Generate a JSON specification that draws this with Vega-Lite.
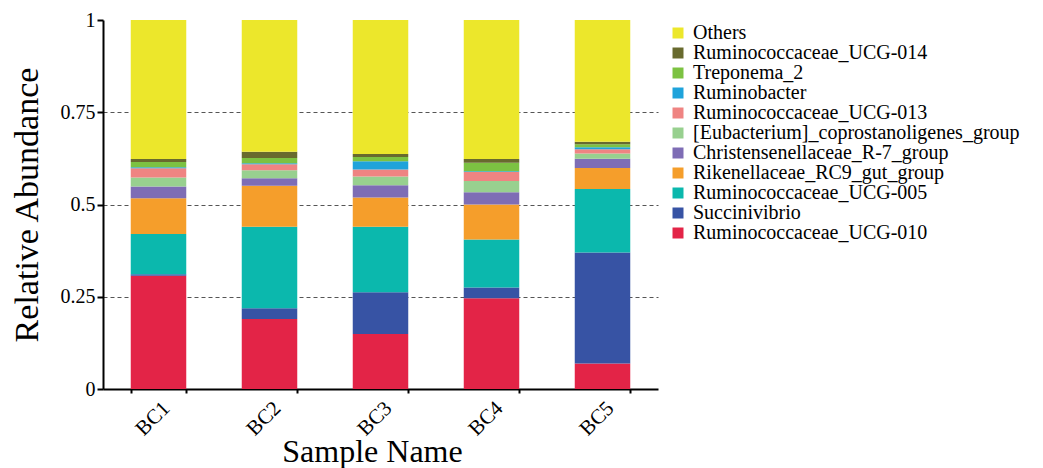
{
  "$schema": "https://vega.github.io/schema/vega-lite/v6.json",
  "autosize": "none",
  "width": 555,
  "height": 369,
  "padding": {"left": 103, "top": 20, "right": 385, "bottom": 79},
  "background": "white",
  "config": {
    "font": "Liberation Serif",
    "view": {"stroke": null},
    "axis": {"labelFont": "Liberation Serif", "titleFont": "Liberation Serif", "labelColor": "black", "titleColor": "black", "titleFontWeight": "normal", "domainColor": "black", "tickColor": "black"},
    "legend": {"labelFont": "Liberation Serif", "labelColor": "black"}
  },
  "data": {
    "values": [
      {"sample": "BC1", "genus": "Ruminococcaceae_UCG-010", "rank": 1, "value": 0.307},
      {"sample": "BC1", "genus": "Succinivibrio", "rank": 2, "value": 0.004},
      {"sample": "BC1", "genus": "Ruminococcaceae_UCG-005", "rank": 3, "value": 0.109},
      {"sample": "BC1", "genus": "Rikenellaceae_RC9_gut_group", "rank": 4, "value": 0.097},
      {"sample": "BC1", "genus": "Christensenellaceae_R-7_group", "rank": 5, "value": 0.032},
      {"sample": "BC1", "genus": "[Eubacterium]_coprostanoligenes_group", "rank": 6, "value": 0.024},
      {"sample": "BC1", "genus": "Ruminococcaceae_UCG-013", "rank": 7, "value": 0.025},
      {"sample": "BC1", "genus": "Ruminobacter", "rank": 8, "value": 0.003},
      {"sample": "BC1", "genus": "Treponema_2", "rank": 9, "value": 0.014},
      {"sample": "BC1", "genus": "Ruminococcaceae_UCG-014", "rank": 10, "value": 0.008},
      {"sample": "BC1", "genus": "Others", "rank": 11, "value": 0.377},
      {"sample": "BC2", "genus": "Ruminococcaceae_UCG-010", "rank": 1, "value": 0.190},
      {"sample": "BC2", "genus": "Succinivibrio", "rank": 2, "value": 0.029},
      {"sample": "BC2", "genus": "Ruminococcaceae_UCG-005", "rank": 3, "value": 0.221},
      {"sample": "BC2", "genus": "Rikenellaceae_RC9_gut_group", "rank": 4, "value": 0.111},
      {"sample": "BC2", "genus": "Christensenellaceae_R-7_group", "rank": 5, "value": 0.020},
      {"sample": "BC2", "genus": "[Eubacterium]_coprostanoligenes_group", "rank": 6, "value": 0.022},
      {"sample": "BC2", "genus": "Ruminococcaceae_UCG-013", "rank": 7, "value": 0.016},
      {"sample": "BC2", "genus": "Ruminobacter", "rank": 8, "value": 0.003},
      {"sample": "BC2", "genus": "Treponema_2", "rank": 9, "value": 0.014},
      {"sample": "BC2", "genus": "Ruminococcaceae_UCG-014", "rank": 10, "value": 0.017},
      {"sample": "BC2", "genus": "Others", "rank": 11, "value": 0.357},
      {"sample": "BC3", "genus": "Ruminococcaceae_UCG-010", "rank": 1, "value": 0.149},
      {"sample": "BC3", "genus": "Succinivibrio", "rank": 2, "value": 0.113},
      {"sample": "BC3", "genus": "Ruminococcaceae_UCG-005", "rank": 3, "value": 0.178},
      {"sample": "BC3", "genus": "Rikenellaceae_RC9_gut_group", "rank": 4, "value": 0.079},
      {"sample": "BC3", "genus": "Christensenellaceae_R-7_group", "rank": 5, "value": 0.033},
      {"sample": "BC3", "genus": "[Eubacterium]_coprostanoligenes_group", "rank": 6, "value": 0.024},
      {"sample": "BC3", "genus": "Ruminococcaceae_UCG-013", "rank": 7, "value": 0.019},
      {"sample": "BC3", "genus": "Ruminobacter", "rank": 8, "value": 0.022},
      {"sample": "BC3", "genus": "Treponema_2", "rank": 9, "value": 0.012},
      {"sample": "BC3", "genus": "Ruminococcaceae_UCG-014", "rank": 10, "value": 0.008},
      {"sample": "BC3", "genus": "Others", "rank": 11, "value": 0.363},
      {"sample": "BC4", "genus": "Ruminococcaceae_UCG-010", "rank": 1, "value": 0.246},
      {"sample": "BC4", "genus": "Succinivibrio", "rank": 2, "value": 0.029},
      {"sample": "BC4", "genus": "Ruminococcaceae_UCG-005", "rank": 3, "value": 0.130},
      {"sample": "BC4", "genus": "Rikenellaceae_RC9_gut_group", "rank": 4, "value": 0.095},
      {"sample": "BC4", "genus": "Christensenellaceae_R-7_group", "rank": 5, "value": 0.033},
      {"sample": "BC4", "genus": "[Eubacterium]_coprostanoligenes_group", "rank": 6, "value": 0.031},
      {"sample": "BC4", "genus": "Ruminococcaceae_UCG-013", "rank": 7, "value": 0.024},
      {"sample": "BC4", "genus": "Ruminobacter", "rank": 8, "value": 0.002},
      {"sample": "BC4", "genus": "Treponema_2", "rank": 9, "value": 0.023},
      {"sample": "BC4", "genus": "Ruminococcaceae_UCG-014", "rank": 10, "value": 0.010},
      {"sample": "BC4", "genus": "Others", "rank": 11, "value": 0.377},
      {"sample": "BC5", "genus": "Ruminococcaceae_UCG-010", "rank": 1, "value": 0.069},
      {"sample": "BC5", "genus": "Succinivibrio", "rank": 2, "value": 0.301},
      {"sample": "BC5", "genus": "Ruminococcaceae_UCG-005", "rank": 3, "value": 0.172},
      {"sample": "BC5", "genus": "Rikenellaceae_RC9_gut_group", "rank": 4, "value": 0.057},
      {"sample": "BC5", "genus": "Christensenellaceae_R-7_group", "rank": 5, "value": 0.025},
      {"sample": "BC5", "genus": "[Eubacterium]_coprostanoligenes_group", "rank": 6, "value": 0.014},
      {"sample": "BC5", "genus": "Ruminococcaceae_UCG-013", "rank": 7, "value": 0.012},
      {"sample": "BC5", "genus": "Ruminobacter", "rank": 8, "value": 0.005},
      {"sample": "BC5", "genus": "Treponema_2", "rank": 9, "value": 0.008},
      {"sample": "BC5", "genus": "Ruminococcaceae_UCG-014", "rank": 10, "value": 0.007},
      {"sample": "BC5", "genus": "Others", "rank": 11, "value": 0.330}
    ]
  },
  "mark": {"type": "bar"},
  "encoding": {
    "x": {
      "field": "sample", "type": "nominal",
      "scale": {"paddingInner": 0.5, "paddingOuter": 0.25},
      "axis": {
        "title": "Sample Name", "titleFontSize": 32, "titlePadding": -3, "titleX": 269,
        "labelAngle": -45, "labelFontSize": 21, "labelPadding": 4,
        "tickBand": "extent", "tickSize": 4, "domainWidth": 2, "tickWidth": 2
      }
    },
    "y": {
      "field": "value", "type": "quantitative", "stack": "zero",
      "scale": {"domain": [0, 1], "nice": false},
      "axis": {
        "title": "Relative Abundance", "titleFontSize": 34, "titlePadding": 16,
        "values": [0, 0.25, 0.5, 0.75, 1], "labelExpr": "toString(datum.value)",
        "labelFontSize": 20, "labelPadding": 2, "tickSize": 6,
        "domainWidth": 2, "tickWidth": 2,
        "grid": true, "gridDash": [4, 3], "gridColor": "#555555", "gridWidth": 1,
        "gridOpacity": {"condition": {"test": "datum.value == 0 || datum.value == 1", "value": 0}, "value": 1}
      }
    },
    "order": {"field": "rank", "type": "quantitative", "sort": "ascending"},
    "color": {
      "field": "genus", "type": "nominal",
      "scale": {
        "domain": ["Others", "Ruminococcaceae_UCG-014", "Treponema_2", "Ruminobacter", "Ruminococcaceae_UCG-013", "[Eubacterium]_coprostanoligenes_group", "Christensenellaceae_R-7_group", "Rikenellaceae_RC9_gut_group", "Ruminococcaceae_UCG-005", "Succinivibrio", "Ruminococcaceae_UCG-010"],
        "range": ["#ECE72B", "#686A2E", "#7CC242", "#1FA3DB", "#EF8482", "#98D08F", "#7E6DB5", "#F59E2B", "#0BB8AD", "#3753A4", "#E32447"]
      },
      "legend": {
        "title": null, "orient": "none", "legendX": 565, "legendY": 3,
        "symbolType": "square", "symbolSize": 121, "symbolStrokeWidth": 0,
        "labelFont": "Liberation Serif", "labelFontSize": 20, "rowPadding": -1.5, "labelOffset": 5, "labelLimit": 400
      }
    }
  }
}
